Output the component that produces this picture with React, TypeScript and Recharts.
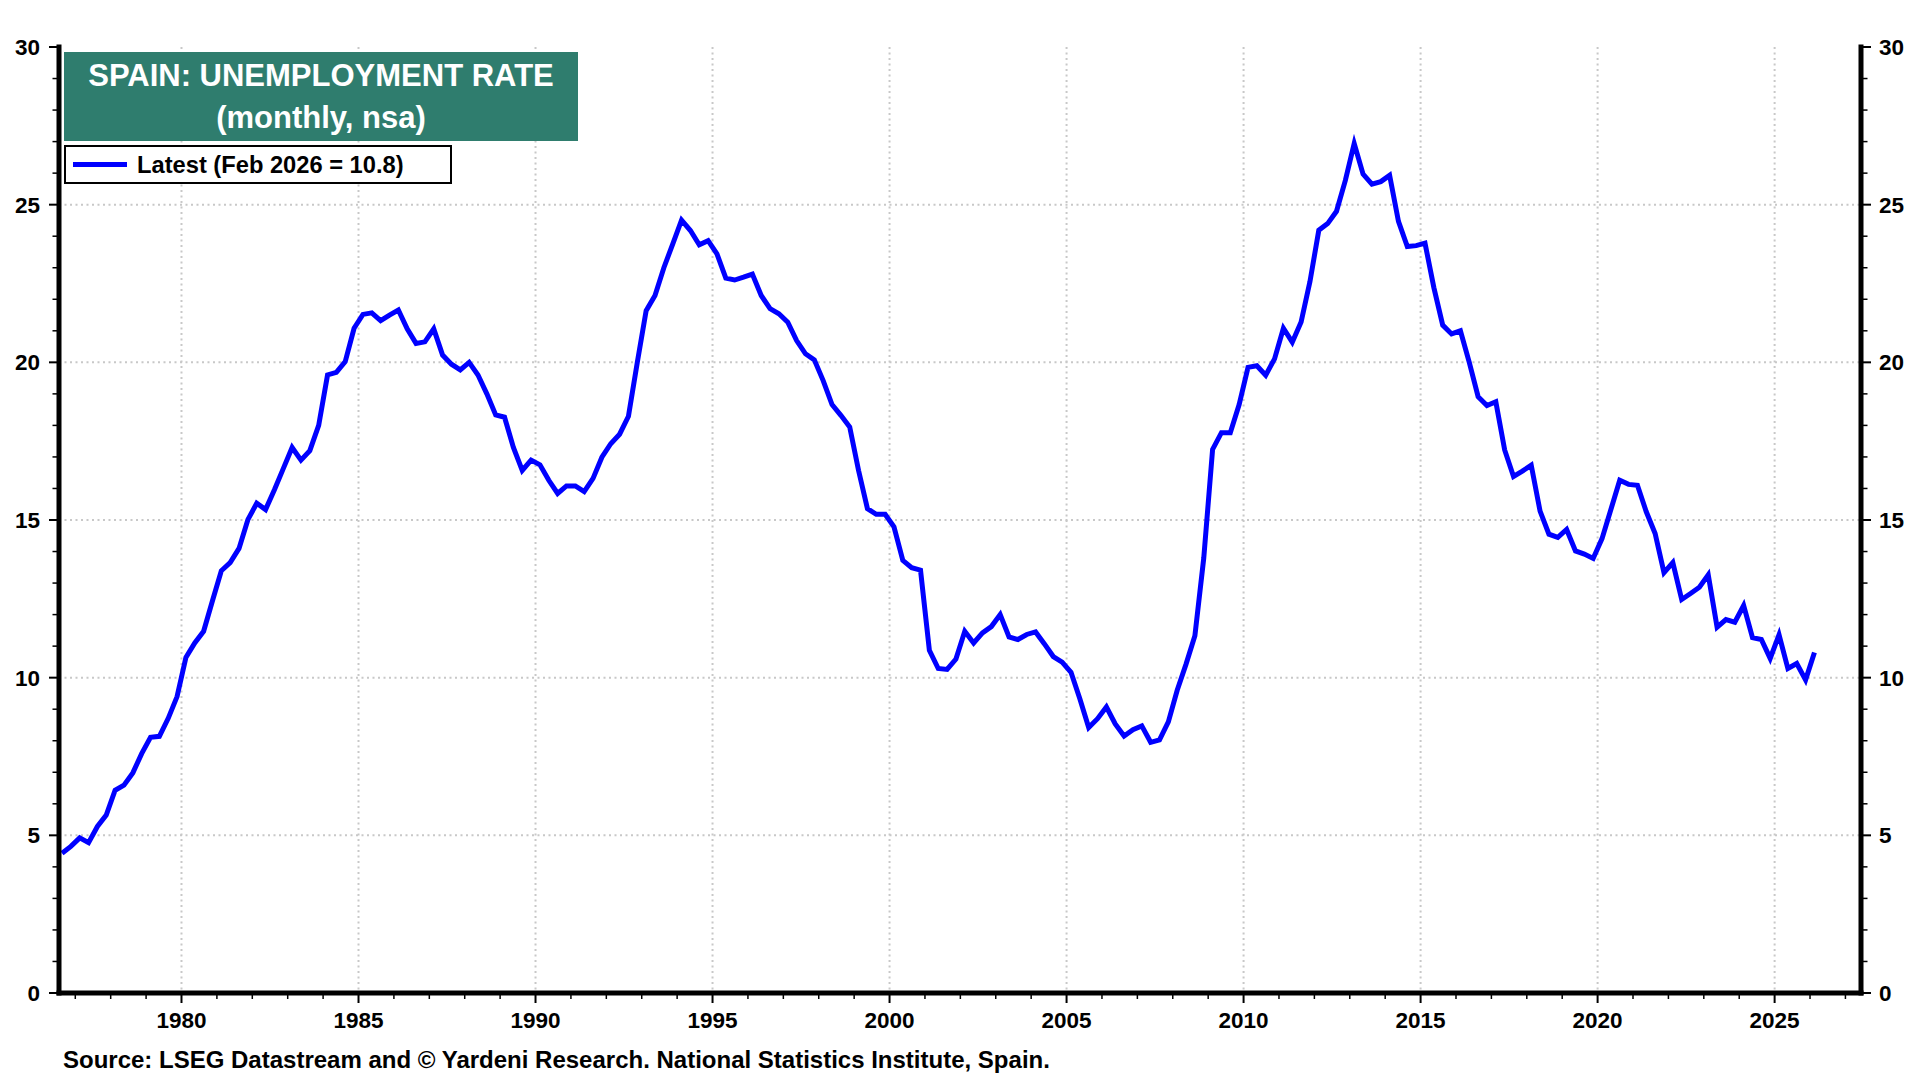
import { LineChart, Line, XAxis, YAxis, CartesianGrid } from 'recharts';

// Quarterly unemployment rate (%), first observation 1976 Q3
const FIRST_YEAR = 1976;
const FIRST_QUARTER = 3;

const rate1970s = [
  4.43, 4.65,
  4.92, 4.77, 5.28, 5.64,
  6.43, 6.59, 6.98, 7.59,
  8.11, 8.14, 8.71, 9.4,
];

const rate1980s = [
  10.64, 11.1, 11.47, 12.44,
  13.39, 13.65, 14.1, 15.01,
  15.53, 15.33, 15.96, 16.63,
  17.3, 16.9, 17.2, 18.0,
  19.6, 19.68, 20.02, 21.08,
  21.52, 21.57, 21.32, 21.5,
  21.66, 21.06, 20.6, 20.65,
  21.06, 20.23, 19.94, 19.76,
  20.0, 19.6, 19.0, 18.33,
  18.26, 17.3, 16.57, 16.9,
];

const rate1990s = [
  16.75, 16.26, 15.84, 16.08,
  16.08, 15.9, 16.32, 16.99,
  17.42, 17.72, 18.29, 20.0,
  21.64, 22.12, 23.0, 23.75,
  24.51, 24.18, 23.73, 23.86,
  23.44, 22.67, 22.61, 22.7,
  22.8, 22.12, 21.7, 21.54,
  21.27, 20.69, 20.27, 20.08,
  19.42, 18.66, 18.32, 17.95,
  16.57, 15.36, 15.18, 15.18,
];

const rate2000s = [
  14.78, 13.72, 13.49, 13.41,
  10.87, 10.29, 10.26, 10.59,
  11.47, 11.1, 11.42, 11.62,
  12.0, 11.29, 11.21, 11.37,
  11.45, 11.07, 10.67, 10.49,
  10.17, 9.33, 8.42, 8.7,
  9.07, 8.53, 8.15, 8.35,
  8.47, 7.95, 8.03, 8.6,
  9.6, 10.43, 11.33, 13.79,
  17.24, 17.77, 17.77, 18.66,
];

const rate2010s = [
  19.84, 19.89, 19.59, 20.11,
  21.08, 20.64, 21.28, 22.56,
  24.19, 24.4, 24.79, 25.77,
  26.94, 25.97, 25.65, 25.73,
  25.93, 24.47, 23.67, 23.7,
  23.78, 22.37, 21.18, 20.9,
  21.0, 20.0, 18.91, 18.63,
  18.75, 17.22, 16.38, 16.55,
  16.74, 15.28, 14.55, 14.45,
  14.7, 14.02, 13.92, 13.78,
];

const rate2020s = [
  14.41, 15.33, 16.26, 16.13,
  16.1, 15.26, 14.57, 13.33,
  13.65, 12.48, 12.67, 12.87,
  13.26, 11.6, 11.84, 11.76,
  12.29, 11.27, 11.21, 10.61,
  11.36, 10.29, 10.45, 9.93,
  10.8,
];

const rateTicks = [
  0, 1, 2, 3, 4, 5, 6, 7, 8, 9, 10, 11, 12, 13, 14, 15,
  16, 17, 18, 19, 20, 21, 22, 23, 24, 25, 26, 27, 28, 29, 30,
];
const rateGrid = [5, 10, 15, 20, 25];
const yearGrid = [1980, 1985, 1990, 1995, 2000, 2005, 2010, 2015, 2020, 2025];
const yearTicks = Array.from({ length: 51 }, (_, i) => 1977 + i);

const TITLE = 'SPAIN: UNEMPLOYMENT RATE';
const SUBTITLE = '(monthly, nsa)';
const LEGEND_LABEL = 'Latest (Feb 2026 = 10.8)';
const SOURCE = 'Source: LSEG Datastream and \u00a9 Yardeni Research. National Statistics Institute, Spain.';

const rates = [...rate1970s, ...rate1980s, ...rate1990s, ...rate2000s, ...rate2010s, ...rate2020s];

// each quarter is placed at its middle month (Feb, May, Aug, Nov)
const data = rates.map((rate, i) => {
  const q = FIRST_QUARTER - 1 + i;
  const year = FIRST_YEAR + Math.floor(q / 4);
  const quarter = (q % 4) + 1;
  return { t: year + (quarter * 3 - 1.5) / 12, rate };
});

const FONT = '"Liberation Sans", Arial, Helvetica, sans-serif';
const BLUE = '#0000ff';
const TEAL = '#2f7d6e';

function YearTick({ x, y, payload }: any) {
  const year = payload.value as number;
  const major = year % 5 === 0;
  return (
    <g>
      <line x1={x} x2={x} y1={y} y2={y + (major ? 10 : 6)} stroke="#000" strokeWidth={major ? 2 : 1.5} />
      {major && (
        <text x={x} y={y + 35} textAnchor="middle" fontFamily={FONT} fontWeight="bold" fontSize={22.5} fill="#000">
          {year}
        </text>
      )}
    </g>
  );
}

function RateTick({ x, y, payload, side }: any) {
  const v = payload.value as number;
  const major = v % 5 === 0;
  const dir = side === 'left' ? -1 : 1;
  return (
    <g>
      <line x1={x} x2={x + dir * (major ? 10 : 6.5)} y1={y} y2={y} stroke="#000" strokeWidth={major ? 2 : 1.5} />
      {major && (
        <text
          x={x + dir * (side === 'left' ? 19 : 18)}
          y={y}
          dy="0.36em"
          textAnchor={side === 'left' ? 'end' : 'start'}
          fontFamily={FONT}
          fontWeight="bold"
          fontSize={22.5}
          fill="#000"
        >
          {v}
        </text>
      )}
    </g>
  );
}

const frame = { stroke: '#000', strokeWidth: 5, strokeLinecap: 'square' as const };

export default function App() {
  return (
    <div style={{ position: 'absolute', left: 0, top: 0, width: 1920, height: 1080, background: '#fff', fontFamily: FONT }}>
      <LineChart width={1920} height={1080} data={data} margin={{ top: 47, right: 0, bottom: 0, left: 0 }}>
        <CartesianGrid
          stroke="#c8c8c8"
          strokeWidth={2}
          strokeDasharray="2 3.5"
          horizontalValues={rateGrid}
          verticalValues={yearGrid}
        />
        <XAxis
          dataKey="t"
          type="number"
          domain={[1976.54, 2027.44]}
          allowDataOverflow
          ticks={yearTicks}
          interval={0}
          height={87}
          tickSize={0}
          tickMargin={0}
          tickLine={false}
          axisLine={frame}
          tick={(p: any) => <YearTick {...p} />}
        />
        <XAxis
          xAxisId="top"
          orientation="top"
          dataKey="t"
          type="number"
          domain={[1976.54, 2027.44]}
          allowDataOverflow
          height={0}
          tick={false}
          tickLine={false}
          axisLine={frame}
        />
        <YAxis
          type="number"
          domain={[0, 30]}
          allowDataOverflow
          ticks={rateTicks}
          interval={0}
          width={59}
          tickSize={0}
          tickMargin={0}
          tickLine={false}
          axisLine={frame}
          tick={(p: any) => <RateTick {...p} side="left" />}
        />
        <YAxis
          yAxisId="right"
          orientation="right"
          type="number"
          domain={[0, 30]}
          allowDataOverflow
          ticks={rateTicks}
          interval={0}
          width={59}
          tickSize={0}
          tickMargin={0}
          tickLine={false}
          axisLine={frame}
          tick={(p: any) => <RateTick {...p} side="right" />}
        />
        <Line
          type="linear"
          dataKey="rate"
          stroke={BLUE}
          strokeWidth={5}
          dot={false}
          activeDot={false}
          isAnimationActive={false}
        />
      </LineChart>

      <div
        style={{
          position: 'absolute',
          left: 64,
          top: 52,
          width: 514,
          height: 89,
          background: TEAL,
          color: '#fff',
          fontWeight: 'bold',
          fontSize: 31,
          lineHeight: '42px',
          display: 'flex',
          flexDirection: 'column',
          alignItems: 'center',
          justifyContent: 'center',
        }}
      >
        <div>{TITLE}</div>
        <div>{SUBTITLE}</div>
      </div>

      <div
        style={{
          position: 'absolute',
          left: 64,
          top: 145,
          width: 388,
          height: 39,
          boxSizing: 'border-box',
          border: '2px solid #000',
          background: '#fff',
          display: 'flex',
          alignItems: 'center',
        }}
      >
        <span style={{ display: 'inline-block', width: 54, height: 5, background: BLUE, marginLeft: 7 }} />
        <span style={{ marginLeft: 10, fontWeight: 'bold', fontSize: 23.7, color: '#000', lineHeight: '24px' }}>
          {LEGEND_LABEL}
        </span>
      </div>

      <div
        style={{
          position: 'absolute',
          left: 63,
          top: 1048,
          fontWeight: 'bold',
          fontSize: 24,
          lineHeight: '24px',
          color: '#000',
          whiteSpace: 'nowrap',
        }}
      >
        {SOURCE}
      </div>
    </div>
  );
}
